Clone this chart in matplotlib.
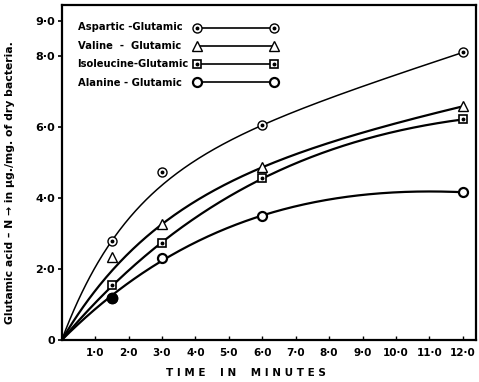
import numpy as np
import matplotlib
matplotlib.use("Agg")
import matplotlib.pyplot as plt
from matplotlib.lines import Line2D
from matplotlib.legend_handler import HandlerTuple

# ---- data ----
time_min = [1.5, 3.0, 6.0, 12.0]
aspartic = [2.80, 4.73, 6.06, 8.11]
valine = [2.35, 3.27, 4.87, 6.59]
isoleucine = [1.55, 2.73, 4.56, 6.22]
alanine = [1.18, 2.31, 3.49, 4.17]
# points that the hand-drawn smooth curve passes through (others are off-curve)
aspartic_on_curve = [True, False, True, True]
valine_on_curve = [False, True, True, True]
isoleucine_on_curve = [True, True, True, True]
alanine_on_curve = [True, True, True, True]
valine_curve_at_1_5 = 1.95  # where the drawn valine curve crosses t=1.5

labels = ["Aspartic -Glutamic", "Valine  -  Glutamic", "Isoleucine-Glutamic", "Alanine - Glutamic"]
xticks = [1, 2, 3, 4, 5, 6, 7, 8, 9, 10, 11, 12]
xticklabels = ["1·0", "2·0", "3·0", "4·0", "5·0", "6·0", "7·0", "8·0", "9·0", "10·0", "11·0", "12·0"]
yticks = [0, 2, 4, 6, 8, 9]
yticklabels = ["0", "2·0", "4·0", "6·0", "8·0", "9·0"]


def smooth_fit(xk, yk, xs):
    """Smooth saturating curve through the origin: a(1-exp(-bx)) + c x (least squares)."""
    xk = np.asarray(xk, float); yk = np.asarray(yk, float)
    best = None
    for b in np.linspace(0.02, 3.0, 1500):
        A = np.column_stack([1 - np.exp(-b * xk), xk])
        coef, *_ = np.linalg.lstsq(A, yk, rcond=None)
        r = np.sum((A @ coef - yk) ** 2)
        if best is None or r < best[0]:
            best = (r, b, coef)
    _, b, (a, c) = best
    return a * (1 - np.exp(-b * xs)) + c * xs


plt.rcParams['font.family'] = ['DejaVu Sans']
fig = plt.figure(figsize=(4.79, 3.82), dpi=100)
ax = fig.add_axes([0.129, 0.110, 0.865, 0.877])

xs = np.linspace(0, 12, 300)
series = [
    (aspartic, aspartic_on_curve, 1.1, dict(marker='o', mfc='white', mec='black', ms=6.5, mew=1.0), True),
    (valine, valine_on_curve, 1.6, dict(marker='^', mfc='white', mec='black', ms=7, mew=1.0), False),
    (isoleucine, isoleucine_on_curve, 1.6, dict(marker='s', mfc='white', mec='black', ms=6, mew=1.2), True),
    (alanine, alanine_on_curve, 1.6, dict(marker='o', mfc='white', mec='black', ms=6.5, mew=1.6), False),
]
handles = []
for vals, on, lw, mk, dotted in series:
    kx = [0.0] + [t for t, o in zip(time_min, on) if o]
    ky = [0.0] + [v for v, o in zip(vals, on) if o]
    if vals is valine:
        kx = [0.0, 1.5] + kx[1:]
        ky = [0.0, valine_curve_at_1_5] + ky[1:]
    ax.plot(xs, smooth_fit(kx, ky, xs), color='black', lw=lw, zorder=2)
    ax.plot(time_min, vals, ls='none', zorder=3, **mk)
    if dotted:
        ax.plot(time_min, vals, ls='none', marker='o', color='black', ms=1.8, zorder=4)
    h1 = Line2D([], [], color='black', lw=1.2, **mk)
    if dotted:
        h2 = Line2D([], [], ls='none', marker='o', color='black', ms=1.8)
        handles.append((h1, h2))
    else:
        handles.append(h1)

# filled first alanine point
ax.plot(time_min[:1], alanine[:1], ls='none', marker='o', color='black', ms=7.5, zorder=5)

# legend samples (no labels) + left-aligned label texts
ax.legend(handles, [''] * len(handles), loc='upper left', bbox_to_anchor=(0.318, 0.945),
          frameon=False, numpoints=2, handlelength=8.3, handletextpad=0.0,
          labelspacing=0.8, borderaxespad=0.0, borderpad=0.0,
          prop=dict(size=7.2, weight='bold'),
          handler_map={tuple: HandlerTuple(ndivide=1, pad=0.0)})
row_y = [0.935, 0.879, 0.823, 0.767]
for lab, yy in zip(labels, row_y):
    ax.text(0.038, yy, lab, transform=ax.transAxes, fontsize=7.2, fontweight='bold',
            ha='left', va='center')

ax.set_xlim(0, 12.4)
ax.set_ylim(0, 9.45)
ax.set_xticks(xticks)
ax.set_xticklabels(xticklabels, fontsize=7.5, fontweight='bold')
ax.set_yticks(yticks)
ax.set_yticklabels(yticklabels, fontsize=8, fontweight='bold')
ax.tick_params(axis='x', direction='in', length=3, width=1.0, pad=6)
ax.tick_params(axis='y', direction='out', length=3, width=1.2, pad=2)
for s in ax.spines.values():
    s.set_linewidth(1.6)
ax.set_xlabel("T I M E    I N    M I N U T E S", fontsize=7.5, fontweight='bold')
ax.xaxis.set_label_coords(0.444, -0.085)
ax.set_ylabel("Glutamic acid – N → in μg./mg. of dry bacteria.", fontsize=7.8,
              fontweight='bold')
ax.yaxis.set_label_coords(-0.114, 0.469)

fig.savefig("out.png", dpi=100)
